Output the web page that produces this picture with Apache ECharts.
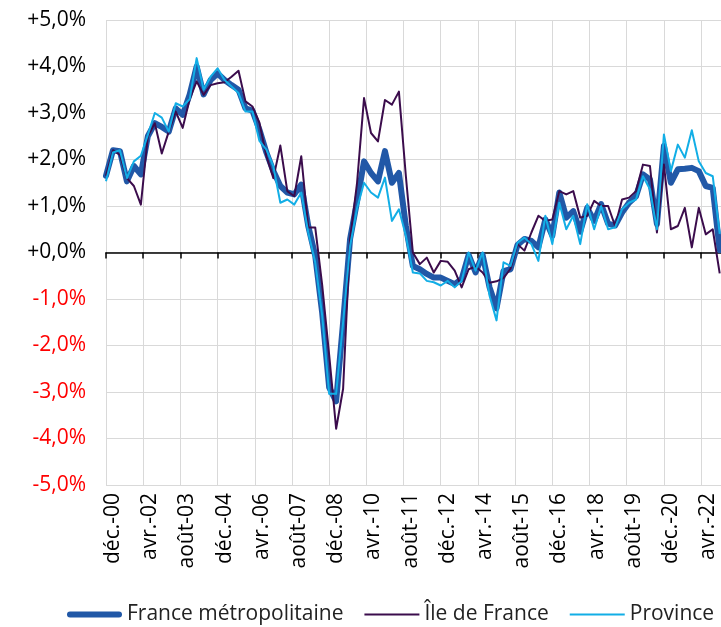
<!DOCTYPE html>
<html>
<head>
<meta charset="utf-8">
<script src="https://cdn.jsdelivr.net/npm/echarts@6/dist/echarts.min.js"></script>
<style>
html,body{margin:0;padding:0;background:#fff;}
#chart{width:721px;height:627px;}
</style>
</head>
<body>
<div id="chart"></div>
<script>
// glissement annuel des prix, un point par trimestre depuis déc.-00
var tickLabels = ['déc.-00','avr.-02','août-03','déc.-04','avr.-06','août-07','déc.-08','avr.-10','août-11','déc.-12','avr.-14','août-15','déc.-16','avr.-18','août-19','déc.-20','avr.-22'];

var france = [1.65,2.2,2.18,1.53,1.86,1.68,2.5,2.78,2.7,2.6,
	3.1,2.96,3.4,4.0,3.4,3.71,3.85,3.71,3.6,3.5,
	3.1,3.05,2.64,2.15,1.75,1.43,1.29,1.25,1.46,0.57,
	-0.07,-1.3,-2.9,-3.2,-1.5,0.29,1.1,1.96,1.71,1.53,
	2.18,1.5,1.71,0.57,-0.29,-0.36,-0.46,-0.54,-0.54,-0.61,
	-0.68,-0.57,-0.05,-0.43,-0.05,-0.75,-1.2,-0.4,-0.36,0.16,
	0.29,0.25,0.11,0.71,0.36,1.29,0.75,0.89,0.45,0.96,
	0.68,1.04,0.62,0.58,0.86,1.07,1.21,1.68,1.57,0.61,
	2.29,1.5,1.79,1.8,1.82,1.75,1.43,1.39,0.05];

var idf = [1.65,2.2,2.1,1.6,1.43,1.03,2.5,2.78,2.13,2.6,
	3.03,2.68,3.3,3.68,3.39,3.6,3.64,3.66,3.78,3.91,
	3.25,3.14,2.79,2.07,1.6,2.3,1.32,1.21,2.07,0.54,
	0.54,-0.7,-2.2,-3.79,-2.93,0.29,1.5,3.32,2.57,2.39,
	3.28,3.18,3.46,1.64,0.0,-0.25,-0.11,-0.43,-0.18,-0.2,
	-0.39,-0.75,-0.36,-0.3,-0.43,-0.65,-0.62,-0.55,-0.35,0.18,
	0.04,0.43,0.79,0.68,0.71,1.32,1.25,1.32,0.75,0.79,
	1.11,1.0,1.0,0.57,1.14,1.18,1.32,1.89,1.86,0.43,
	1.89,0.5,0.57,0.96,0.11,0.96,0.39,0.5,-0.45];

var province = [1.53,2.15,2.2,1.6,1.96,2.08,2.53,3.0,2.9,2.6,
	3.21,3.14,3.3,4.18,3.5,3.78,3.96,3.71,3.57,3.43,
	3.03,3.03,2.4,2.21,1.85,1.07,1.14,1.03,1.29,0.43,
	-0.21,-1.36,-3.04,-3.04,-1.5,0.14,0.95,1.5,1.29,1.18,
	1.61,0.68,0.93,0.36,-0.43,-0.45,-0.61,-0.64,-0.71,-0.61,
	-0.75,-0.61,0.0,-0.39,0.0,-0.93,-1.46,-0.21,-0.29,0.21,
	0.32,0.18,-0.18,0.79,0.18,1.07,0.5,0.79,0.18,1.04,
	0.5,1.0,0.5,0.54,0.93,1.07,1.14,1.64,1.36,0.5,
	2.54,1.75,2.32,2.04,2.63,1.96,1.71,1.64,0.4];

// x en mois depuis déc.-00 (3 mois par point)
function toPoints(arr){
	return arr.map(function(v,i){ return [i*3, v]; });
}

var fontName = 'Open Sans';
var myChart = echarts.init(document.getElementById('chart'), null, {renderer:'canvas'});
var option = {
	animation: false,
	grid: {
		left: 106,
		top: 20,
		width: 623,
		height: 465,
		outerBoundsMode: 'none'
	},
	legend: {
		left: 67,
		top: 604,
		width: 700,
		padding: 0,
		itemWidth: 55,
		itemHeight: 14,
		itemGap: 21,
		textStyle: {fontFamily: fontName, fontSize: 21, color: '#222'},
		data: [
			{name: 'France métropolitaine', icon: 'path://M3,0h49a3,3 0 0 1 0,6h-49a3,3 0 0 1 0,-6z'},
			{name: 'Île de France', icon: 'path://M0,0h55v2h-55z'},
			{name: 'Province', icon: 'path://M0,0h55v2h-55z'}
		]
	},
	xAxis: [
		{
			type: 'value',
			min: 0,
			max: 268,
			interval: 16,
			axisLine: {show: false, onZero: false},
			axisTick: {show: false},
			splitLine: {show: true, lineStyle: {color: '#d9d9d9', width: 1}},
			axisLabel: {
				rotate: 90,
				margin: 8,
				verticalAlign: 'top',
				lineHeight: 14,
				fontFamily: fontName,
				fontSize: 21,
				color: '#000',
				showMaxLabel: false,
				formatter: function(v){
					var k = v / 16;
					return tickLabels[k] || '';
				}
			}
		},
		{
			type: 'value',
			position: 'bottom',
			min: 0,
			max: 268,
			interval: 16,
			axisLine: {show: true, onZero: true, lineStyle: {color: '#000', width: 1.5}},
			axisTick: {show: true, length: 6, lineStyle: {color: '#000', width: 1.5}},
			splitLine: {show: false},
			axisLabel: {show: false}
		}
	],
	yAxis: {
		type: 'value',
		min: -5,
		max: 5,
		interval: 1,
		axisLine: {show: false},
		axisTick: {show: false},
		splitLine: {lineStyle: {color: '#d9d9d9', width: 1}},
		axisLabel: {
			margin: 20,
			fontFamily: fontName,
			fontSize: 21,
			color: function(v){ return v < 0 ? '#ff0000' : '#000'; },
			formatter: function(v){
				return (v < 0 ? '-' : '+') + Math.abs(v).toFixed(1).replace('.', ',') + '%';
			}
		}
	},
	series: [
		{
			name: 'France métropolitaine',
			type: 'line',
			symbol: 'none',
			xAxisIndex: 0,
			data: toPoints(france),
			lineStyle: {color: '#2158a7', width: 6, join: 'round', cap: 'round'},
			itemStyle: {color: '#2158a7'}
		},
		{
			name: 'Île de France',
			type: 'line',
			symbol: 'none',
			xAxisIndex: 0,
			data: toPoints(idf),
			lineStyle: {color: '#3b0c4c', width: 2, join: 'round'},
			itemStyle: {color: '#3b0c4c'}
		},
		{
			name: 'Province',
			type: 'line',
			symbol: 'none',
			xAxisIndex: 0,
			data: toPoints(province),
			lineStyle: {color: '#12aee6', width: 2, join: 'round'},
			itemStyle: {color: '#12aee6'}
		}
	]
};
myChart.setOption(option);
</script>
</body>
</html>
